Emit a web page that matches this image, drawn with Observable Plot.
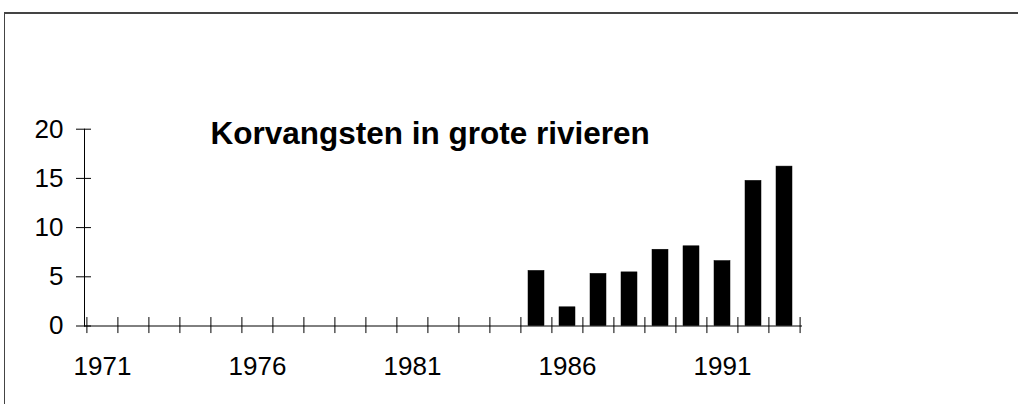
<!DOCTYPE html>
<html>
<head>
<meta charset="utf-8">
<script src="https://cdn.jsdelivr.net/npm/d3@7"></script>
<script src="https://cdn.jsdelivr.net/npm/@observablehq/plot@0.6"></script>
<style>
  html, body { margin: 0; padding: 0; background: #fff; overflow: hidden; }
  #wrap { position: relative; width: 1018px; height: 404px; overflow: hidden; }
  #border { position: absolute; left: 4px; top: 12px; width: 1014px; height: 392px;
            border-top: 2px solid #444; border-left: 1px solid #444; box-sizing: border-box; }
  #chart { position: absolute; left: 0; top: 0; }
</style>
</head>
<body>
<div id="wrap"><div id="border"></div><div id="chart"></div></div>
<script>
const years = d3.range(1971, 1994).map(String);
const barYears = ["1985", "1986", "1987", "1988", "1989", "1990", "1991", "1992", "1993"];
const barValues = [5.6, 1.9, 5.3, 5.45, 7.75, 8.1, 6.6, 14.75, 16.2];
const yTicks = [0, 5, 10, 15, 20];
const xTickLabels = ["1971", "1976", "1981", "1986", "1991"];
const title = "Korvangsten in grote rivieren";

const data = barYears.map((y, i) => ({year: y, value: barValues[i]}));

const W = 1018, H = 404;
const mL = 84, mR = 216, mT = 128.7, mB = 78.5;
const step = (W - mL - mR) / years.length;

const chart = Plot.plot({
  width: W,
  height: H,
  marginLeft: mL,
  marginRight: mR,
  marginTop: mT,
  marginBottom: mB,
  style: {fontFamily: "'Liberation Sans', Arial, sans-serif", color: "#000", background: "transparent"},
  x: {type: "band", domain: years, paddingInner: 0.5, paddingOuter: 0.25, align: 0.5, axis: null},
  y: {domain: [0, 20], axis: null},
  marks: [
    Plot.barY(data, {x: "year", y: "value", fill: "#000", stroke: "#000", strokeWidth: 0.5}),
    Plot.frame({anchor: "left", stroke: "#000"}),
    Plot.ruleY([0], {stroke: "#000"}),
    Plot.ruleX(years, {x: d => d, y1: -0.77, y2: 0.86, dx: -step / 2, stroke: "#000"}),
    Plot.ruleX(years.slice(-1), {x: d => d, y1: -0.77, y2: 0.86, dx: step / 2, stroke: "#000"}),
    Plot.axisY({ticks: yTicks, tickSize: 15, dx: 7, tickPadding: 13, fontSize: 26, stroke: "#000", fill: "#000", label: null}),
    Plot.axisX({ticks: xTickLabels, tickSize: 0, tickPadding: 31, fontSize: 26, fill: "#000", label: null}),
    Plot.text([title], {frameAnchor: "top-left", text: d => d, dx: 126, dy: -8, textAnchor: "start", lineAnchor: "top", fontSize: 31.5, fontWeight: "bold", fill: "#000"})
  ]
});
document.getElementById("chart").appendChild(chart);
</script>
</body>
</html>
